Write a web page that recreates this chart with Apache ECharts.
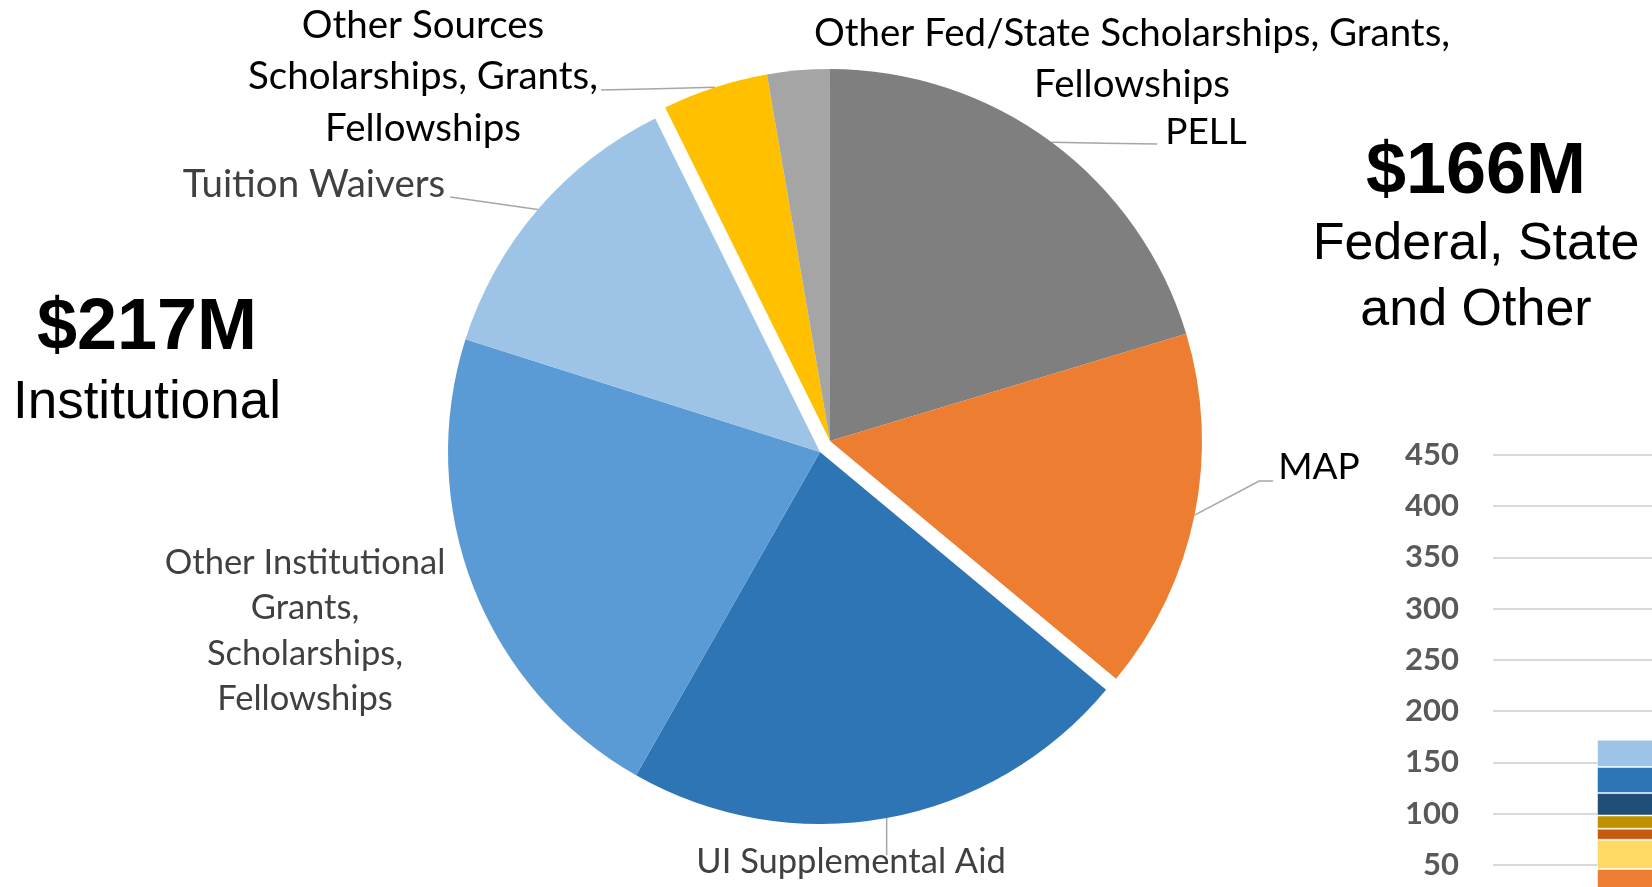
<!DOCTYPE html>
<html>
<head>
<meta charset="utf-8">
<title>Aid sources</title>
<script src="https://cdn.jsdelivr.net/npm/echarts@6/dist/echarts.min.js"></script>
<style>
html, body { margin: 0; padding: 0; background: #fff; }
#chart { width: 1652px; height: 887px; }
</style>
</head>
<body>
<div id="chart"></div>
<script>
// 饼图数据 ($M)
var fedNames = ['Other Sources\nScholarships, Grants,\nFellowships', 'Other Fed/State Scholarships, Grants,\nFellowships', 'PELL', 'MAP'];
var fedValues = [17.6, 10.3, 78, 60.1];
var instNames = ['UI Supplemental Aid', 'Other Institutional\nGrants,\nScholarships,\nFellowships', 'Tuition Waivers'];
var instValues = [85, 83, 49];
var fedGroupName = ['Federal, State', 'and Other'];
var instGroupName = ['Institutional'];

// 右下角堆叠柱 (从下往上)
var barSegNames = ['Seg A', 'Seg B', 'Seg C', 'Seg D', 'Seg E', 'Seg F', 'Seg G'];
var barSegValues = [45.9, 28.5, 10.8, 12.9, 21.9, 25.4, 26.6];
var barCategories = [''];
var yMin = 0, yMax = 450, yInterval = 50;

// 样式
var fedColors = ['#FFC000', '#A5A5A5', '#7F7F7F', '#ED7D31'];
var instColors = ['#2E75B6', '#5B9BD5', '#9DC3E6'];
var barColors = ['#ED7D31', '#FFD966', '#C55A11', '#BF9000', '#1F4E79', '#2E75B6', '#9DC3E6'];
var labelFont = 'Lato';
var startAngle = 116.3;
var pieRadius = 372;

// 标签位置
var fedLabelPos = [
  { x: 423, y: 77, fs: 38.5, lh: 51.6, side: 'right', gap: 3, dy: 13 },
  { x: 1132, y: 59, fs: 38.5, lh: 50.5 },
  { x: 1206, y: 132, fs: 37, lh: 44, side: 'left', gap: 8, dy: 12 },
  { x: 1319, y: 467, fs: 37, lh: 44, side: 'left', gap: 5, dy: 14, elbow: 14 }
];
var instLabelPos = [
  null,
  { x: 851, y: 862, fs: 34.5, lh: 42, side: 'top', dy: -7 },
  { x: 305, y: 631, fs: 34.5, lh: 45.4 },
  { x: 314, y: 185, fs: 38.5, lh: 44, side: 'right', gap: 5, dy: 12 }
];

function sum(arr) {
  var s = 0;
  for (var i = 0; i < arr.length; i++) s += arr[i];
  return s;
}

function sliceItem(name, value, color, textColor, pos) {
  return {
    name: name,
    value: value,
    itemStyle: { color: color },
    label: { color: textColor, fontSize: pos.fs, lineHeight: pos.lh },
    labelLine: { show: !!pos.side }
  };
}

function blankItem(value) {
  return {
    name: '',
    value: value,
    itemStyle: { color: 'rgba(0,0,0,0)' },
    label: { show: false },
    labelLine: { show: false },
    emphasis: { disabled: true },
    tooltip: { show: false }
  };
}

function makeLayout(posList) {
  return function (params) {
    var L = posList[params.dataIndex];
    if (!L) return;
    var out = { x: L.x, y: L.y, align: 'center', verticalAlign: 'middle' };
    var pts = params.labelLinePoints;
    if (L.side && pts) {
      var w = params.labelRect.width;
      var p0 = pts[0];
      var end;
      if (L.side === 'left') end = [L.x - w / 2 - L.gap, L.y + L.dy];
      else if (L.side === 'right') end = [L.x + w / 2 + L.gap, L.y + L.dy];
      else end = [p0[0], L.y + L.dy];
      var mid = L.elbow ? [end[0] - L.elbow, end[1]] : [(p0[0] + end[0]) / 2, (p0[1] + end[1]) / 2];
      out.labelLinePoints = [p0, mid, end];
    }
    return out;
  };
}

var fedData = [];
for (var i = 0; i < fedNames.length; i++) {
  fedData.push(sliceItem(fedNames[i], fedValues[i], fedColors[i], '#000', fedLabelPos[i]));
}
fedData.push(blankItem(sum(instValues)));

var instData = [blankItem(sum(fedValues))];
for (var j = 0; j < instNames.length; j++) {
  instData.push(sliceItem(instNames[j], instValues[j], instColors[j], '#404040', instLabelPos[j + 1]));
}

var pieCommon = {
  type: 'pie',
  radius: pieRadius,
  startAngle: startAngle,
  clockwise: true,
  avoidLabelOverlap: false,
  minShowLabelAngle: 0,
  animation: false,
  label: {
    show: true,
    position: 'outside',
    alignTo: 'none',
    fontFamily: labelFont,
    fontSize: 34,
    overflow: 'none'
  },
  labelLine: {
    show: true,
    lineStyle: { color: '#A6A6A6', width: 1.5 }
  },
  emphasis: { scale: false }
};

var fedSeries = Object.assign({}, pieCommon, {
  name: 'Federal, State and Other',
  center: [830, 441],
  data: fedData,
  labelLayout: makeLayout(fedLabelPos)
});
var instSeries = Object.assign({}, pieCommon, {
  name: 'Institutional',
  center: [820, 452],
  data: instData,
  labelLayout: makeLayout(instLabelPos)
});

var barSeries = [];
for (var k = 0; k < barSegNames.length; k++) {
  barSeries.push({
    type: 'bar',
    name: barSegNames[k],
    stack: 'total',
    barWidth: 120,
    data: [barSegValues[k]],
    itemStyle: { color: barColors[k], borderColor: 'rgba(255,255,255,0.5)', borderWidth: 1 },
    animation: false
  });
}

function bigText(x, y, text, size, weight) {
  return {
    type: 'text',
    x: x,
    y: y,
    style: {
      text: text,
      fill: '#000',
      fontFamily: '"Liberation Sans", Arial, sans-serif',
      fontSize: size,
      fontWeight: weight,
      align: 'center',
      verticalAlign: 'middle',
      textAlign: 'center',
      textVerticalAlign: 'middle'
    }
  };
}

var option = {
  backgroundColor: '#fff',
  animation: false,
  grid: { left: 1493, top: 455, width: 328, height: 461, outerBoundsMode: 'none', containLabel: false },
  xAxis: {
    type: 'category',
    data: barCategories,
    show: false
  },
  yAxis: {
    type: 'value',
    min: yMin,
    max: yMax,
    interval: yInterval,
    axisLine: { show: false },
    axisTick: { show: false },
    axisLabel: {
      fontFamily: labelFont,
      fontWeight: 'bold',
      fontSize: 31,
      color: '#595959',
      margin: 34
    },
    splitLine: { lineStyle: { color: '#D9D9D9', width: 2 } }
  },
  graphic: [
    bigText(1476, 173, '$' + Math.round(sum(fedValues)) + 'M', 72, 'bold'),
    bigText(1476, 245, fedGroupName[0], 52, 'normal'),
    bigText(1476, 311, fedGroupName[1], 52, 'normal'),
    bigText(147, 329, '$' + Math.round(sum(instValues)) + 'M', 72, 'bold'),
    bigText(147, 403, instGroupName[0], 53, 'normal')
  ],
  series: [fedSeries, instSeries].concat(barSeries)
};

var chart = echarts.init(document.getElementById('chart'));
chart.setOption(option);
</script>
</body>
</html>
